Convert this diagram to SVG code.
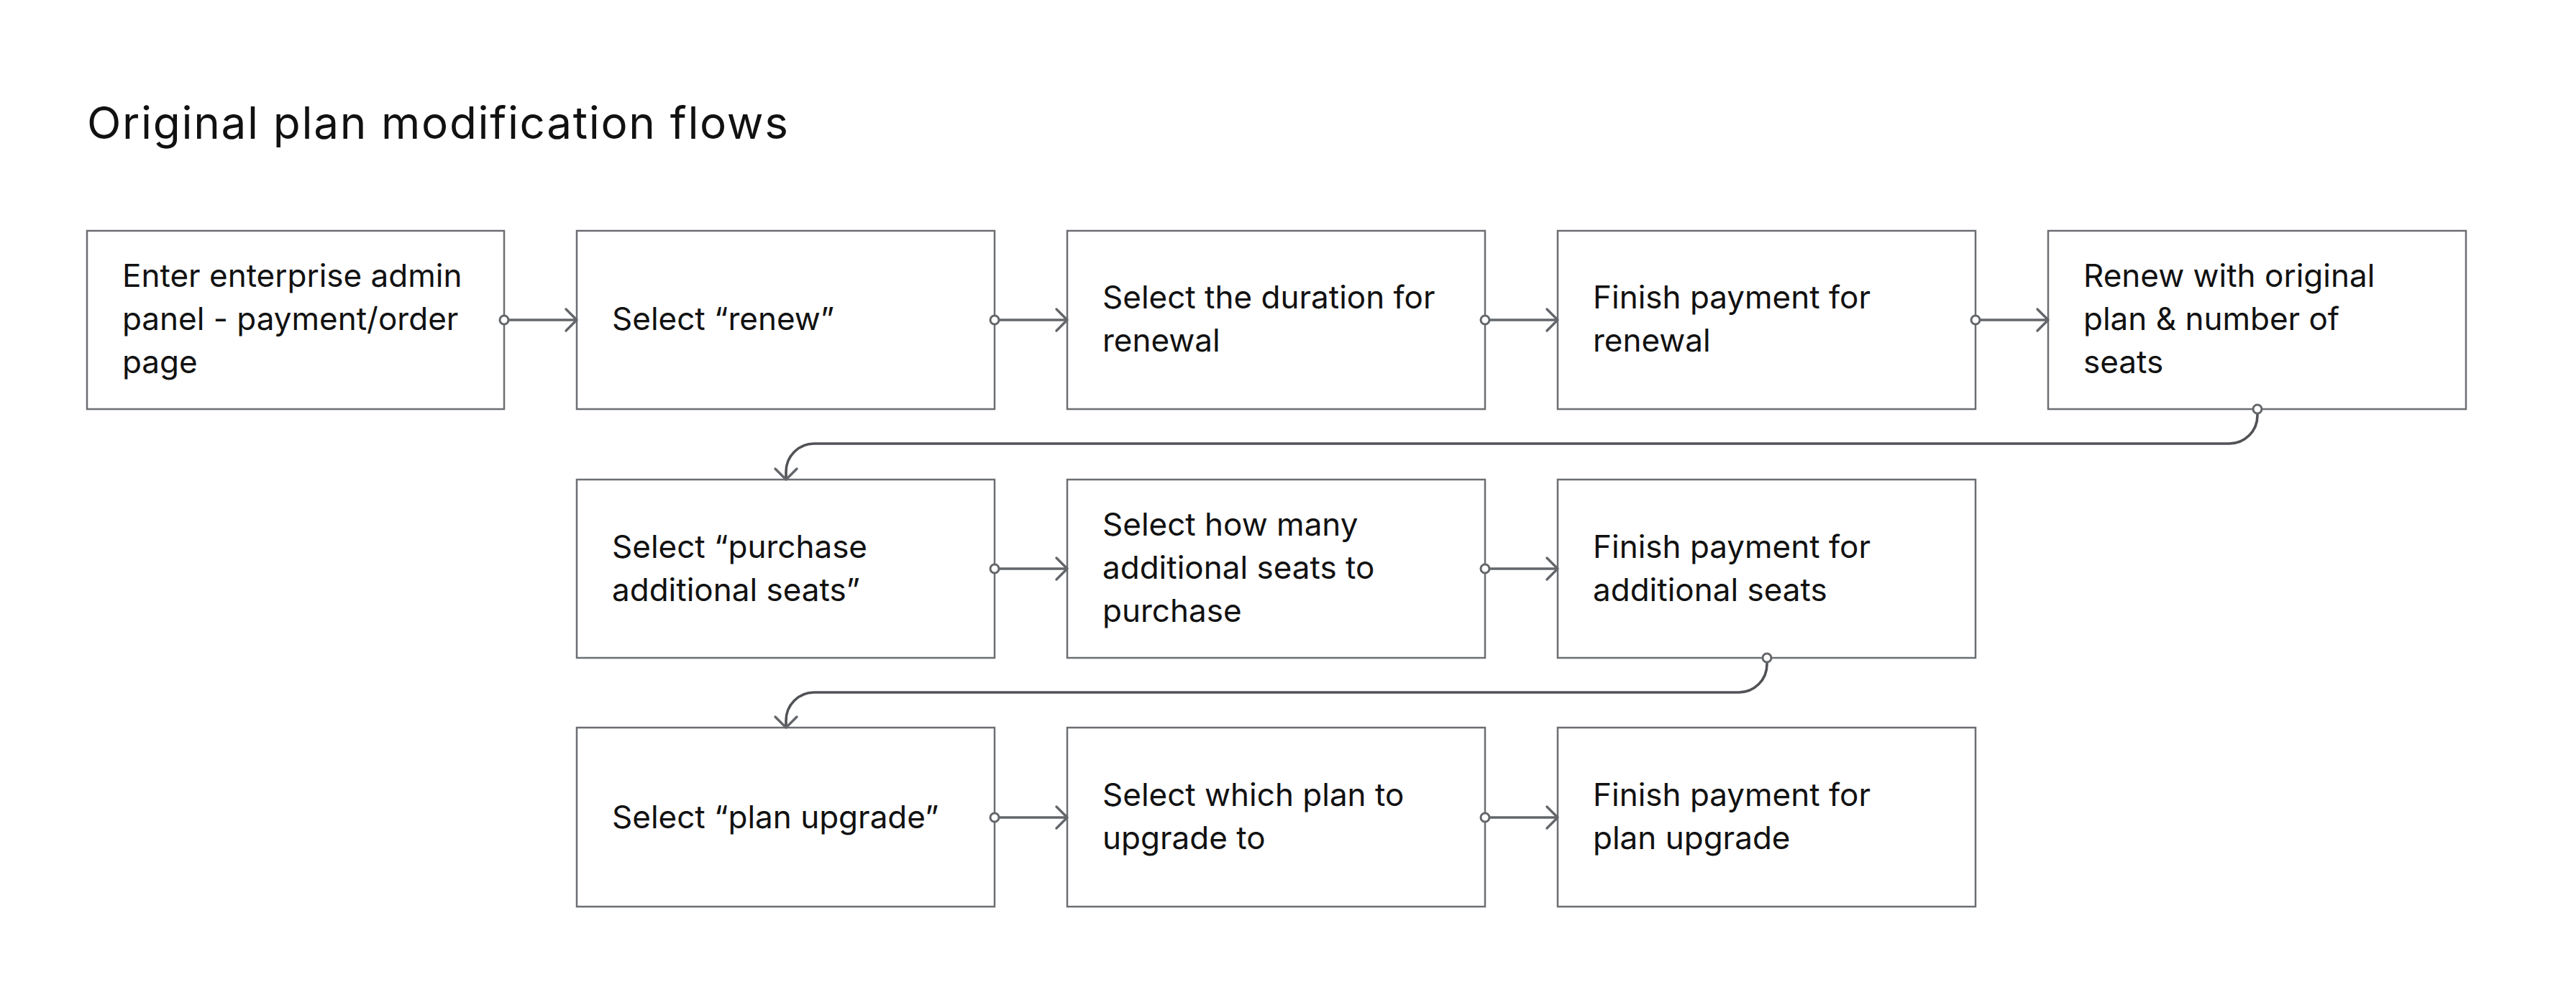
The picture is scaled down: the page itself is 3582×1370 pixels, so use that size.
<svg xmlns="http://www.w3.org/2000/svg" width="3582" height="1370" viewBox="0 0 3582 1370">
<style>
.box{fill:#ffffff;stroke:#6b6e72;stroke-width:2.5}
.t{font-family:Inter,"Liberation Sans",sans-serif;font-size:44px;fill:#111111}
.title{font-family:Inter,"Liberation Sans",sans-serif;font-size:62px;fill:#111111}
.c{fill:none;stroke:#63666a;stroke-width:3.6}
.cv{fill:none;stroke:#505255;stroke-width:3.6}
.dot{fill:#ffffff;stroke:#63666a;stroke-width:3}
</style>
<defs>
<marker id="arrow" markerUnits="userSpaceOnUse" markerWidth="24" markerHeight="36" viewBox="0 0 24 36" refX="19" refY="18" orient="auto">
<path d="M4 3 L19 18 L4 33" fill="none" stroke="#63666a" stroke-width="3.4" stroke-linecap="round" stroke-linejoin="round"/>
</marker>
</defs>
<rect width="3582" height="1370" fill="#ffffff"/>
<text class="title" x="121" y="193" textLength="975">Original plan modification flows</text>

<g id="n1"><rect class="box" x="121" y="321" width="580" height="248"/>
<text class="t" x="170" y="399">Enter enterprise admin</text><text class="t" x="170" y="459">panel - payment/order</text><text class="t" x="170" y="519">page</text></g>
<g id="n2"><rect class="box" x="802" y="321" width="581" height="248"/>
<text class="t" x="851" y="459">Select “renew”</text></g>
<g id="n3"><rect class="box" x="1484" y="321" width="581" height="248"/>
<text class="t" x="1533" y="429">Select the duration for</text><text class="t" x="1533" y="489">renewal</text></g>
<g id="n4"><rect class="box" x="2166" y="321" width="581" height="248"/>
<text class="t" x="2215" y="429">Finish payment for</text><text class="t" x="2215" y="489">renewal</text></g>
<g id="n5"><rect class="box" x="2848" y="321" width="581" height="248"/>
<text class="t" x="2897" y="399">Renew with original</text><text class="t" x="2897" y="459">plan &amp; number of</text><text class="t" x="2897" y="519">seats</text></g>

<g id="n6"><rect class="box" x="802" y="667" width="581" height="248"/>
<text class="t" x="851" y="776">Select “purchase</text><text class="t" x="851" y="836">additional seats”</text></g>
<g id="n7"><rect class="box" x="1484" y="667" width="581" height="248"/>
<text class="t" x="1533" y="745">Select how many</text><text class="t" x="1533" y="805">additional seats to</text><text class="t" x="1533" y="865">purchase</text></g>
<g id="n8"><rect class="box" x="2166" y="667" width="581" height="248"/>
<text class="t" x="2215" y="776">Finish payment for</text><text class="t" x="2215" y="836">additional seats</text></g>

<g id="n9"><rect class="box" x="802" y="1012" width="581" height="249"/>
<text class="t" x="851" y="1152">Select “plan upgrade”</text></g>
<g id="n10"><rect class="box" x="1484" y="1012" width="581" height="249"/>
<text class="t" x="1533" y="1121">Select which plan to</text><text class="t" x="1533" y="1181">upgrade to</text></g>
<g id="n11"><rect class="box" x="2166" y="1012" width="581" height="249"/>
<text class="t" x="2215" y="1121">Finish payment for</text><text class="t" x="2215" y="1181">plan upgrade</text></g>

<g id="connectors">
<path class="c" d="M701 445 H802" marker-end="url(#arrow)"/>
<path class="c" d="M1383 445 H1484" marker-end="url(#arrow)"/>
<path class="c" d="M2065 445 H2166" marker-end="url(#arrow)"/>
<path class="c" d="M2747 445 H2848" marker-end="url(#arrow)"/>
<path class="cv" d="M3139 569 V578 A39 39 0 0 1 3100 617 H1132 A39 39 0 0 0 1093 656 V667" marker-end="url(#arrow)"/>
<path class="c" d="M1383 791 H1484" marker-end="url(#arrow)"/>
<path class="c" d="M2065 791 H2166" marker-end="url(#arrow)"/>
<path class="cv" d="M2457 915 V924 A39 39 0 0 1 2418 963 H1132 A39 39 0 0 0 1093 1002 V1012" marker-end="url(#arrow)"/>
<path class="c" d="M1383 1137 H1484" marker-end="url(#arrow)"/>
<path class="c" d="M2065 1137 H2166" marker-end="url(#arrow)"/>
<circle class="dot" cx="701" cy="445" r="6"/>
<circle class="dot" cx="1383" cy="445" r="6"/>
<circle class="dot" cx="2065" cy="445" r="6"/>
<circle class="dot" cx="2747" cy="445" r="6"/>
<circle class="dot" cx="3139" cy="569" r="6"/>
<circle class="dot" cx="1383" cy="791" r="6"/>
<circle class="dot" cx="2065" cy="791" r="6"/>
<circle class="dot" cx="2457" cy="915" r="6"/>
<circle class="dot" cx="1383" cy="1137" r="6"/>
<circle class="dot" cx="2065" cy="1137" r="6"/>
</g>
</svg>
